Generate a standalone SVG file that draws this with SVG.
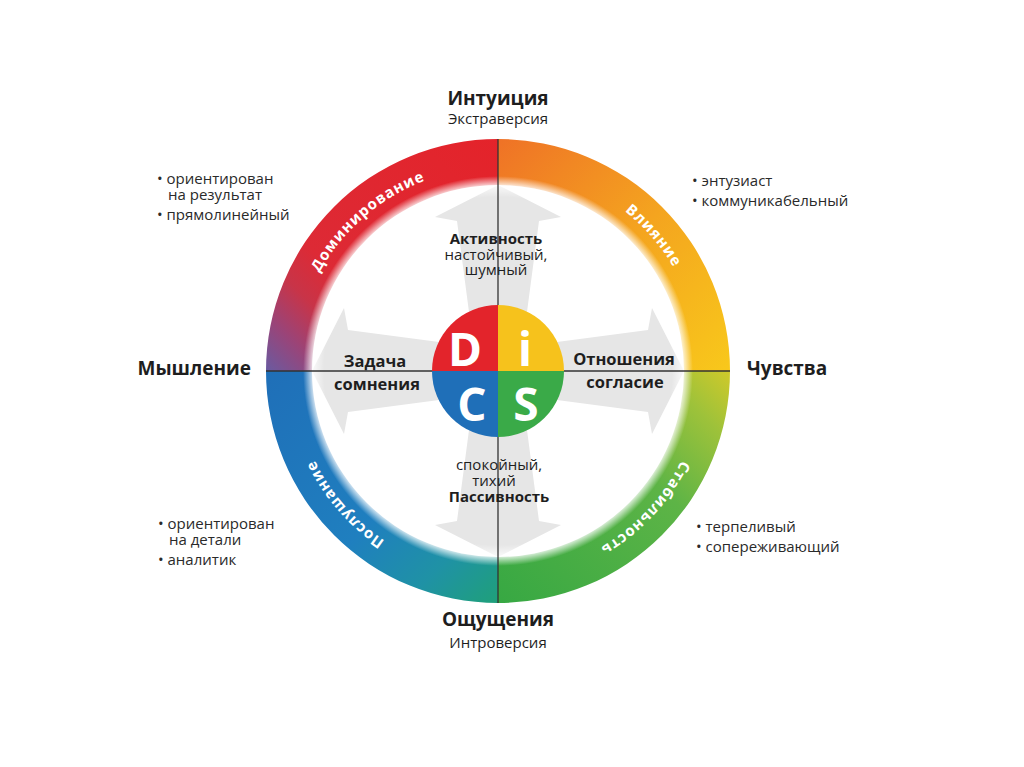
<svg xmlns="http://www.w3.org/2000/svg" width="1024" height="767" viewBox="0 0 1024 767">
<style>
text{font-family:"Open Sans","Noto Sans","DejaVu Sans",sans-serif;fill:#1e1e1e}
.b{font-weight:bold}
.t19{font-size:19px;font-weight:bold}
.s15{font-size:15px}
.c16{font-size:15px}
.c17{font-size:16.5px;font-weight:bold}
.li{font-size:15px;fill:#2a2a2a}
.ring{font-size:15px;font-weight:bold;fill:#ffffff;letter-spacing:0.9px}
.big{font-size:46px;font-weight:bold;fill:#ffffff}
.ax{stroke:#333;stroke-width:1.3;fill:none}
</style>
<defs>
<linearGradient id="gTL" gradientUnits="userSpaceOnUse" x1="267" y1="371" x2="498" y2="140">
<stop offset="0" stop-color="#6a5aa0"/><stop offset="0.12" stop-color="#9a4478"/><stop offset="0.24" stop-color="#c83448"/><stop offset="0.36" stop-color="#dd2a35"/><stop offset="1" stop-color="#e4232a"/>
</linearGradient>
<linearGradient id="gTR" gradientUnits="userSpaceOnUse" x1="498" y1="140" x2="729" y2="371">
<stop offset="0" stop-color="#ef7226"/><stop offset="0.5" stop-color="#f4a41f"/><stop offset="1" stop-color="#f8c81b"/>
</linearGradient>
<linearGradient id="gBR" gradientUnits="userSpaceOnUse" x1="729" y1="371" x2="498" y2="602">
<stop offset="0" stop-color="#cfc92a"/><stop offset="0.15" stop-color="#9ec23a"/><stop offset="0.4" stop-color="#5db446"/><stop offset="1" stop-color="#37a843"/>
</linearGradient>
<linearGradient id="gBL" gradientUnits="userSpaceOnUse" x1="498" y1="602" x2="267" y2="371">
<stop offset="0" stop-color="#1fa07a"/><stop offset="0.2" stop-color="#1f92a5"/><stop offset="0.45" stop-color="#1f7fbf"/><stop offset="1" stop-color="#1f6fb8"/>
</linearGradient>
<radialGradient id="glow" gradientUnits="userSpaceOnUse" cx="498" cy="371" r="232">
<stop offset="0.75" stop-color="#ffffff" stop-opacity="0"/><stop offset="0.80" stop-color="#ffffff" stop-opacity="0.8"/><stop offset="0.84" stop-color="#ffffff" stop-opacity="0"/><stop offset="1" stop-color="#ffffff" stop-opacity="0"/>
</radialGradient>
<path id="arm" d="M498 185 L561 217 L539 221 L527 312 L469 312 L457 221 L435 217 Z" fill="#e6e6e6"/>
<path id="pD" d="M296.51 339.09 A204 204 0 0 1 494.44 167.03"/>
<path id="pI" d="M529.91 169.51 A204 204 0 0 1 701.97 367.44"/>
<path id="pS" d="M701.72 381.68 A204 204 0 0 1 522.86 573.48"/>
<path id="pC" d="M466.09 572.49 A204 204 0 0 1 294.03 374.56"/>
</defs>
<rect width="1024" height="767" fill="#ffffff"/>

<g id="arrows">
<use href="#arm"/>
<use href="#arm" transform="rotate(90 498 371)"/>
<use href="#arm" transform="rotate(180 498 371)"/>
<use href="#arm" transform="rotate(270 498 371)"/>
</g>

<g id="ring">
<path d="M266 371 A232 232 0 0 1 498 139 L498 185 A186 186 0 0 0 312 371 Z" fill="url(#gTL)"/>
<path d="M498 139 A232 232 0 0 1 730 371 L684 371 A186 186 0 0 0 498 185 Z" fill="url(#gTR)"/>
<path d="M730 371 A232 232 0 0 1 498 603 L498 557 A186 186 0 0 0 684 371 Z" fill="url(#gBR)"/>
<path d="M498 603 A232 232 0 0 1 266 371 L312 371 A186 186 0 0 0 498 557 Z" fill="url(#gBL)"/>
<circle cx="498" cy="371" r="232" fill="url(#glow)"/>
<text class="ring"><textPath href="#pD" startOffset="50%" text-anchor="middle">Доминирование</textPath></text>
<text class="ring"><textPath href="#pI" startOffset="50%" text-anchor="middle">Влияние</textPath></text>
<text class="ring"><textPath href="#pS" startOffset="50%" text-anchor="middle">Стабильность</textPath></text>
<text class="ring"><textPath href="#pC" startOffset="50%" text-anchor="middle">Послушание</textPath></text>
</g>

<g id="connectors">
<line class="ax" x1="266" y1="371" x2="730" y2="371"/>
<line class="ax" x1="498" y1="139" x2="498" y2="603"/>
</g>

<g id="disc">
<path d="M498 371 L432 371 A66 66 0 0 1 498 305 Z" fill="#e3242b"/>
<path d="M498 371 L498 305 A66 66 0 0 1 564 371 Z" fill="#f6c21c"/>
<path d="M498 371 L564 371 A66 66 0 0 1 498 437 Z" fill="#3aaa48"/>
<path d="M498 371 L498 437 A66 66 0 0 1 432 371 Z" fill="#1f6fb8"/>
<text class="big" x="465" y="366" text-anchor="middle">D</text>
<text class="big" x="525" y="366" text-anchor="middle">i</text>
<text class="big" x="472" y="421" text-anchor="middle">C</text>
<text class="big" x="526" y="421" text-anchor="middle">S</text>
</g>

<g id="top-label">
<text class="t19" x="498" y="105" text-anchor="middle">Интуиция</text>
<text class="s15" x="498" y="124" text-anchor="middle">Экстраверсия</text>
</g>
<g id="bottom-label">
<text class="t19" x="498" y="626" text-anchor="middle">Ощущения</text>
<text class="s15" x="498" y="648" text-anchor="middle">Интроверсия</text>
</g>
<g id="left-label">
<text class="t19" x="251" y="375" text-anchor="end">Мышление</text>
</g>
<g id="right-label">
<text class="t19" x="747" y="375">Чувства</text>
</g>

<g id="activity">
<text class="c16 b" x="496" y="244" text-anchor="middle">Активность</text>
<text class="c16" x="496" y="260" text-anchor="middle">настойчивый,</text>
<text class="c16" x="496" y="275" text-anchor="middle">шумный</text>
</g>
<g id="task">
<text class="c17" x="375" y="367" text-anchor="middle">Задача</text>
<text class="c17" x="377" y="390" text-anchor="middle">сомнения</text>
</g>
<g id="relations">
<text class="c17" x="624" y="365" text-anchor="middle">Отношения</text>
<text class="c17" x="625" y="388" text-anchor="middle">согласие</text>
</g>
<g id="passivity">
<text class="c16" x="499" y="470" text-anchor="middle">спокойный,</text>
<text class="c16" x="494" y="486" text-anchor="middle">тихий</text>
<text class="c16 b" x="499" y="502" text-anchor="middle">Пассивность</text>
</g>

<g id="list-D">
<text class="li" x="157" y="184">• ориентирован</text>
<text class="li" x="168" y="200">на результат</text>
<text class="li" x="157" y="220">• прямолинейный</text>
</g>
<g id="list-i">
<text class="li" x="692" y="186">• энтузиаст</text>
<text class="li" x="692" y="206">• коммуникабельный</text>
</g>
<g id="list-C">
<text class="li" x="158" y="529">• ориентирован</text>
<text class="li" x="169" y="545">на детали</text>
<text class="li" x="158" y="565">• аналитик</text>
</g>
<g id="list-S">
<text class="li" x="696" y="532">• терпеливый</text>
<text class="li" x="696" y="552">• сопереживающий</text>
</g>
</svg>
